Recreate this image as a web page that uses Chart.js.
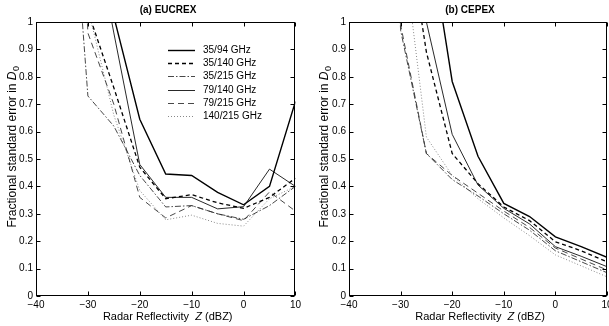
<!DOCTYPE html>
<html>
<head>
<meta charset="utf-8">
<script src="https://cdn.jsdelivr.net/npm/chart.js@4.4.1/dist/chart.umd.min.js"></script>
<style>
  html, body { margin: 0; padding: 0; background: #fff; overflow: hidden; width: 609px; height: 326px; }
  #eucrex { position: absolute; left: 0; top: 0; }
  #cepex { position: absolute; left: 304px; top: 0; }
</style>
</head>
<body>
<canvas id="eucrex" width="304" height="326"></canvas>
<canvas id="cepex" width="316" height="326"></canvas>
<script>
const FONT = '"Liberation Sans", Arial, Helvetica, sans-serif';

// radar reflectivity Z (dBZ) where each curve is sampled
const zdB = [-35, -30, -25, -20, -15, -10, -5, 0, 5, 10];
const pairs = ['35/94 GHz', '35/140 GHz', '35/215 GHz', '79/140 GHz', '79/215 GHz', '140/215 GHz'];
const xTicks = [-40, -30, -20, -10, 0, 10];
const yTicks = [0, 0.1, 0.2, 0.3, 0.4, 0.5, 0.6, 0.7, 0.8, 0.9, 1];

// (a) EUCREX - fractional standard error in D0 (values above 1 run off the top)
const eu_35_94   = [3.0, 2.0, 1.02, 0.645, 0.445, 0.44, 0.378, 0.333, 0.40, 0.71];
const eu_35_140  = [2.0, 1.04, 0.76, 0.47, 0.355, 0.37, 0.34, 0.32, 0.36, 0.43];
const eu_35_215  = [2.0, 0.73, 0.62, 0.44, 0.325, 0.33, 0.30, 0.28, 0.33, 0.40];
const eu_79_140  = [2.5, 1.46, 0.96, 0.48, 0.36, 0.36, 0.318, 0.326, 0.463, 0.40];
const eu_79_215  = [3.0, 0.96, 0.70, 0.36, 0.285, 0.33, 0.30, 0.275, 0.38, 0.31];
const eu_140_215 = [2.0, 1.05, 0.66, 0.385, 0.278, 0.295, 0.265, 0.255, 0.355, 0.40];

// (b) CEPEX
const ce_35_94   = [3.5, 2.6, 1.38, 0.783, 0.51, 0.338, 0.29, 0.216, 0.18, 0.141];
const ce_35_140  = [2.5, 1.5, 0.89, 0.52, 0.41, 0.325, 0.275, 0.198, 0.165, 0.125];
const ce_35_215  = [3.0, 0.97, 0.52, 0.425, 0.365, 0.30, 0.24, 0.165, 0.125, 0.085];
const ce_79_140  = [2.5, 1.6, 1.0, 0.59, 0.405, 0.32, 0.263, 0.18, 0.145, 0.107];
const ce_79_215  = [3.0, 0.99, 0.52, 0.44, 0.375, 0.31, 0.25, 0.175, 0.135, 0.095];
const ce_140_215 = [2.5, 1.35, 0.58, 0.44, 0.355, 0.285, 0.22, 0.15, 0.11, 0.07];

// line look for each frequency pair, same order as pairs
const lineStyles = [
  { color: '#000', width: 1.4, dash: [] },
  { color: '#000', width: 1.3, dash: [4, 3] },
  { color: '#333', width: 0.9, dash: [6, 2, 1.5, 2] },
  { color: '#111', width: 0.9, dash: [] },
  { color: '#333', width: 0.9, dash: [6, 4] },
  { color: '#888', width: 1.0, dash: [1, 2] },
];

function makeDatasets(series) {
  return series.map((vals, i) => ({
    label: pairs[i],
    data: zdB.map((z, j) => ({ x: z, y: vals[j] })),
    borderColor: lineStyles[i].color,
    borderWidth: lineStyles[i].width,
    borderDash: lineStyles[i].dash,
    pointRadius: 0,
    tension: 0,
    fill: false,
    clip: 0,
  }));
}

// MATLAB style box, inward ticks, titles and legend
const matlabAxes = {
  id: 'matlabAxes',
  afterDraw(chart, args, o) {
    const { ctx, chartArea: a, scales } = chart;
    const L = Math.round(a.left) + 0.5, R = Math.round(a.right) - 0.5;
    const T = Math.round(a.top) + 0.5, B = Math.round(a.bottom) - 0.5;
    ctx.save();
    ctx.strokeStyle = '#000';
    ctx.lineWidth = 1;
    ctx.setLineDash([]);
    ctx.strokeRect(L, T, R - L, B - T);
    ctx.beginPath();
    yTicks.forEach(v => {
      const y = Math.round(scales.y.getPixelForValue(v)) + 0.5;
      ctx.moveTo(L, y); ctx.lineTo(L + 4, y);
      ctx.moveTo(R, y); ctx.lineTo(R - 4, y);
    });
    xTicks.forEach(v => {
      const x = Math.round(scales.x.getPixelForValue(v)) + 0.5;
      ctx.moveTo(x, B); ctx.lineTo(x, B - 4);
      ctx.moveTo(x, T); ctx.lineTo(x, T + 4);
    });
    ctx.stroke();

    ctx.fillStyle = '#000';
    // title
    ctx.font = 'bold 10px ' + FONT;
    ctx.textAlign = 'center';
    ctx.textBaseline = 'middle';
    ctx.fillText(o.title, o.titleX, 10);

    // x axis title
    const cx = (a.left + a.right) / 2 + 2;
    const p1 = 'Radar Reflectivity  ', p2 = 'Z', p3 = ' (dBZ)';
    ctx.font = '11px ' + FONT;
    const w1 = ctx.measureText(p1).width, w3 = ctx.measureText(p3).width;
    ctx.font = 'italic 11px ' + FONT;
    const w2 = ctx.measureText(p2).width;
    let x0 = cx - (w1 + w2 + w3) / 2;
    ctx.textAlign = 'left';
    ctx.font = '11px ' + FONT;
    ctx.fillText(p1, x0, 317);
    ctx.font = 'italic 11px ' + FONT;
    ctx.fillText(p2, x0 + w1, 317);
    ctx.font = '11px ' + FONT;
    ctx.fillText(p3, x0 + w1 + w2, 317);

    // y axis title, rotated, with italic D and subscript 0
    const q1 = 'Fractional standard error in ';
    ctx.font = '12px ' + FONT;
    const v1 = ctx.measureText(q1).width;
    ctx.font = 'italic 12px ' + FONT;
    const v2 = ctx.measureText('D').width;
    ctx.font = '9px ' + FONT;
    const v3 = ctx.measureText('0').width;
    ctx.translate(o.yTitleX, 147 + (v1 + v2 + v3) / 2);
    ctx.rotate(-Math.PI / 2);
    ctx.font = '12px ' + FONT;
    ctx.fillText(q1, 0, 0);
    ctx.font = 'italic 12px ' + FONT;
    ctx.fillText('D', v1, 0);
    ctx.font = '9px ' + FONT;
    ctx.fillText('0', v1 + v2 + 0.5, 4);
    ctx.setTransform(1, 0, 0, 1, 0, 0);

    // legend inside the axes
    if (o.legend) {
      ctx.font = '10px ' + FONT;
      ctx.textBaseline = 'middle';
      chart.data.datasets.forEach((ds, i) => {
        const y = Math.round(50 + i * 13.2) + 0.5;
        ctx.beginPath();
        ctx.strokeStyle = ds.borderColor;
        ctx.lineWidth = ds.borderWidth;
        ctx.setLineDash(ds.borderDash);
        ctx.moveTo(168, y); ctx.lineTo(195, y);
        ctx.stroke();
        ctx.setLineDash([]);
        ctx.fillText(ds.label, 203, y);
      });
    }
    ctx.restore();
  }
};

function makePanel(id, series, o) {
  new Chart(document.getElementById(id), {
    type: 'line',
    data: { datasets: makeDatasets(series) },
    options: {
      responsive: false,
      animation: false,
      layout: { padding: { top: 22, right: o.padRight, left: 0, bottom: 0 } },
      plugins: { legend: { display: false }, tooltip: { enabled: false }, matlabAxes: o },
      scales: {
        x: {
          type: 'linear', min: -40, max: 10,
          afterBuildTicks: s => { s.ticks = xTicks.map(v => ({ value: v })); },
          afterFit: s => { s.height = 30; },
          grid: { display: false, drawTicks: false },
          border: { display: false },
          ticks: {
            padding: 3, color: '#000', font: { family: FONT, size: 10 }, maxRotation: 0,
            callback: v => v < 0 ? '\u2212' + Math.abs(v) : String(v)
          }
        },
        y: {
          type: 'linear', min: 0, max: 1,
          afterBuildTicks: s => { s.ticks = yTicks.map(v => ({ value: v })); },
          afterFit: s => { s.width = o.yWidth; },
          grid: { display: false, drawTicks: false },
          border: { display: false },
          ticks: {
            padding: 3, color: '#000', font: { family: FONT, size: 10 },
            callback: v => String(Math.round(v * 10) / 10)
          }
        }
      }
    },
    plugins: [matlabAxes]
  });
}

makePanel('eucrex', [eu_35_94, eu_35_140, eu_35_215, eu_79_140, eu_79_215, eu_140_215],
  { title: '(a) EUCREX', titleX: 168, yTitleX: 13, yWidth: 36, padRight: 8, legend: true });
makePanel('cepex', [ce_35_94, ce_35_140, ce_35_215, ce_79_140, ce_79_215, ce_140_215],
  { title: '(b) CEPEX', titleX: 166, yTitleX: 21, yWidth: 45, padRight: 13, legend: false });
</script>
</body>
</html>
